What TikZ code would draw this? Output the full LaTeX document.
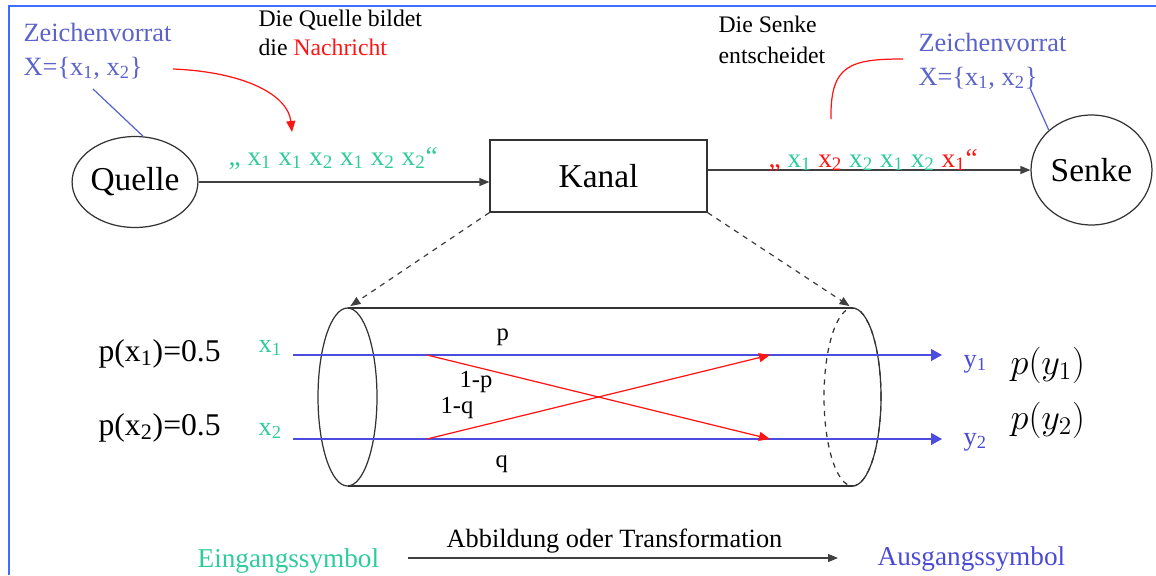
\documentclass[tikz,border=0pt]{standalone}
\usepackage{fontspec}
\setmainfont{Liberation Serif}
\usetikzlibrary{arrows.meta, shapes.geometric}
\definecolor{frameblue}{HTML}{3D6EFF}
\definecolor{symgreen}{HTML}{2ECC9A}
\definecolor{symblue}{HTML}{5B62C9}
\definecolor{outblue}{HTML}{4A4AD6}
\definecolor{lineblue}{HTML}{4C4CE0}
\definecolor{msgred}{HTML}{FF1414}
\newcommand{\fsz}[2]{\fontsize{#1}{#2}\selectfont}

\begin{document}
\begin{tikzpicture}[
  x=0.02cm, y=-0.02cm,
  line width=0.7pt,
  lbl/.style={inner sep=0pt, anchor=base west, align=left},
  symbox/.style={draw=black!80, ellipse, inner sep=0pt, font=\fsz{19}{22}},
  arrow/.style={draw=black!75, -{Triangle[length=2mm, width=1.6mm]}},
  dasharrow/.style={arrow, dashed, shorten >=2pt},
  bluearrow/.style={draw=lineblue, -{Triangle[length=2.2mm, width=2.4mm]}},
  redarrow/.style={draw=msgred, -{Triangle[length=2.2mm, width=1.8mm]}}
]
\useasboundingbox (0,0) rectangle (1156,575);

% frame, top and left edge only
\draw[frameblue, line width=1.7pt] (9,575) -- (9,6) -- (1156,6);

% ---------------- Quelle, Kanal, Senke ----------------
\node[symbox, minimum width=2.42cm, minimum height=1.82cm] (quelle) at (135,182) {Quelle};
\node[draw=black!80, minimum width=4.34cm, minimum height=1.44cm, inner sep=0pt,
      font=\fsz{19}{22}] (kanal) at (598.5,176) {Kanal};
\node[symbox, minimum width=2.42cm, minimum height=2.2cm] (senke) at (1091.5,170) {Senke};

\draw[arrow] (quelle.east) -- (quelle.east -| kanal.west);
\draw[arrow] (kanal.east |- senke.west) -- (senke.west);

% ---------------- annotations (placed at last baseline) ----------------
\node[lbl, text=symblue, font=\fsz{15}{18.8}] (zvQuelle) at (23,75)
  {Zeichenvorrat\\X=\{x\textsubscript{1}, x\textsubscript{2}\}};
\node[lbl, font=\fsz{13.5}{16}] (bildet) at (258,55)
  {Die Quelle bildet\\die \textcolor{msgred}{Nachricht}};
\node[lbl, font=\fsz{13.5}{17.6}] (entscheidet) at (718,63) {Die Senke\\entscheidet};
\node[lbl, text=symblue, font=\fsz{15}{18.8}] (zvSenke) at (918,85)
  {Zeichenvorrat\\X=\{x\textsubscript{1}, x\textsubscript{2}\}};

\node[lbl, text=symgreen, font=\fsz{15.5}{18}] (seqIn) at (228,165)
  {„ x\textsubscript{1} x\textsubscript{1} x\textsubscript{2} x\textsubscript{1} x\textsubscript{2} x\textsubscript{2}“};
\node[lbl, text=symgreen, font=\fsz{15.5}{18}] (seqOut) at (768,167)
  {\textcolor{msgred}{„} x\textsubscript{1} \textcolor{msgred}{x\textsubscript{2}} x\textsubscript{2} x\textsubscript{1} x\textsubscript{2} \textcolor{msgred}{x\textsubscript{1}“}};

% pointers
\coordinate (zvQuelleFoot) at (93,89);
\coordinate (zvSenkeFoot) at (1030,88);
\draw[symblue] (zvQuelleFoot) -- (quelle.80);
\draw[symblue] (zvSenkeFoot) -- (senke.137);

\coordinate (nachrStart) at (173,69);
\coordinate (nachrTip) at (292,132);
\draw[redarrow] (nachrStart) .. controls (245,72) and (288,95) .. (nachrTip);
\coordinate (entschFoot) at (831,119);
\coordinate (entschEnd) at (903,59);
\draw[msgred] (entschFoot) .. controls (830,65) and (850,59) .. (entschEnd);

% ---------------- channel as cylinder ----------------
\coordinate (cylL) at (347.5,397);
\coordinate (cylR) at (852.5,397);
\coordinate (cylLT) at (347.5,308);
\coordinate (cylRT) at (852.5,308);
\coordinate (cylLB) at (347.5,486);
\coordinate (cylRB) at (852.5,486);

\draw[black!80] (cylL) ellipse [x radius=0.59cm, y radius=1.78cm];
\draw[black!80, dashed] (cylR) ellipse [x radius=0.57cm, y radius=1.78cm];
\begin{scope}
  \clip (852.5,300) rectangle (895,495);
  \draw[black!80] (cylR) ellipse [x radius=0.57cm, y radius=1.78cm];
\end{scope}
\draw[black!80] (cylLT) -- (cylRT);
\draw[black!80] (cylLB) -- (cylRB);

\draw[dasharrow] (kanal.south west) -- (cylLT);
\draw[dasharrow] (kanal.south east) -- (cylRT);

% inputs and outputs
\node[lbl, font=\fsz{18}{21}] (pxa) at (98,361) {p(x\textsubscript{1})=0.5};
\node[lbl, font=\fsz{18}{21}] (pxb) at (98,435) {p(x\textsubscript{2})=0.5};
\node[lbl, text=symgreen, font=\fsz{15}{18}] (xa) at (258,352) {x\textsubscript{1}};
\node[lbl, text=symgreen, font=\fsz{15}{18}] (xb) at (258,435) {x\textsubscript{2}};
\node[lbl, text=outblue, font=\fsz{15}{18}] (ya) at (963,367) {y\textsubscript{1}};
\node[lbl, text=outblue, font=\fsz{15}{18}] (yb) at (963,445) {y\textsubscript{2}};
\node[lbl, font=\fsz{21}{24}] (pya) at (1010,374) {$p\bigl(y_1\bigr)$};
\node[lbl, font=\fsz{21}{24}] (pyb) at (1010,429) {$p\bigl(y_2\bigr)$};

\coordinate (inA) at (293,355);
\coordinate (inB) at (293,439);
\coordinate (outA) at (942,355);
\coordinate (outB) at (942,439);
\coordinate (flipA) at (427,355);
\coordinate (flipB) at (427,439);
\coordinate (hitA) at (770,355);
\coordinate (hitB) at (770,439);

\draw[bluearrow] (inA) -- (outA);
\draw[bluearrow] (inB) -- (outB);
\draw[redarrow] (flipA) -- (hitB);
\draw[redarrow] (flipB) -- (hitA);

\node[lbl, font=\fsz{14}{16}] (lp) at (496,340) {p};
\node[lbl, font=\fsz{14}{16}] (lnp) at (459,387) {1-p};
\node[lbl, font=\fsz{14}{16}] (lnq) at (440,413) {1-q};
\node[lbl, font=\fsz{14}{16}] (lq) at (495,467) {q};

% ---------------- bottom line ----------------
\node[lbl, text=symgreen, font=\fsz{15.5}{18}] (eingang) at (197,567) {Eingangssymbol};
\node[lbl, text=outblue, font=\fsz{15.5}{18}] (ausgang) at (877,565) {Ausgangssymbol};
\node[lbl, font=\fsz{15}{18}] (abbildung) at (446,547) {Abbildung oder Transformation};
\coordinate (mapStart) at (408,558);
\coordinate (mapEnd) at (838,558);
\draw[arrow] (mapStart) -- (mapEnd);

\end{tikzpicture}
\end{document}
